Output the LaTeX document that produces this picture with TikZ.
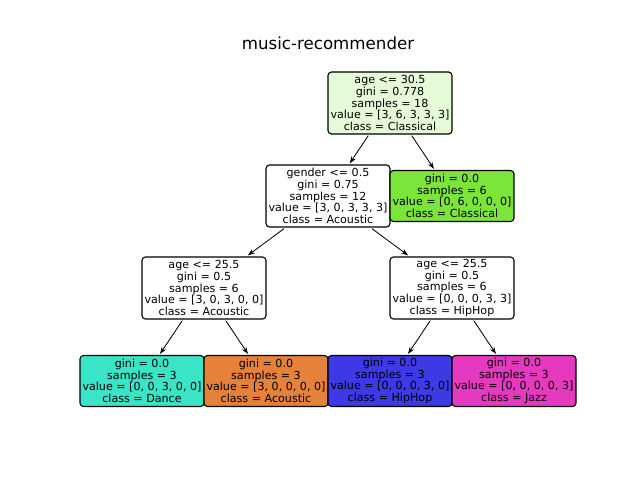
\documentclass[tikz,border=0pt]{standalone}
\usepackage{fontspec}
\setmainfont{DejaVu Sans}
\usetikzlibrary{arrows.meta}
\definecolor{rootc}{RGB}{229,250,215}
\definecolor{classc}{RGB}{123,229,57}
\definecolor{dancec}{RGB}{57,229,198}
\definecolor{acousc}{RGB}{229,129,57}
\definecolor{hipc}{RGB}{60,57,229}
\definecolor{jazzc}{RGB}{229,57,192}
\tikzset{
  treebox/.style={draw=black, line width=0.8pt, rounded corners=2.5pt, align=center,
    font=\fontsize{8}{8.4}\selectfont, minimum width=89.28pt, inner sep=1pt, outer sep=1.2pt},
  splitbox/.style={treebox, minimum height=44.64pt},
  leafbox/.style={treebox, minimum height=36.72pt},
  edge/.style={-{Stealth[length=5pt,width=3.6pt]}, line width=0.6pt}
}
\begin{document}
\begin{tikzpicture}[x=0.72pt, y=-0.72pt]
\useasboundingbox (0,0) rectangle (640,480);
\node[font=\fontsize{12}{14}\selectfont] (title) at (328,43) {music-recommender};
\node[splitbox, fill=rootc] (root) at (390,103) {age <= 30.5\\gini = 0.778\\samples = 18\\value = [3, 6, 3, 3, 3]\\class = Classical};
\node[splitbox, fill=white] (gender) at (328,196) {gender <= 0.5\\gini = 0.75\\samples = 12\\value = [3, 0, 3, 3, 3]\\class = Acoustic};
\node[leafbox, fill=classc] (leafcl) at (452,196) {gini = 0.0\\samples = 6\\value = [0, 6, 0, 0, 0]\\class = Classical};
\node[splitbox, fill=white] (ageL) at (204,288) {age <= 25.5\\gini = 0.5\\samples = 6\\value = [3, 0, 3, 0, 0]\\class = Acoustic};
\node[splitbox, fill=white] (ageR) at (452,288) {age <= 25.5\\gini = 0.5\\samples = 6\\value = [0, 0, 0, 3, 3]\\class = HipHop};
\node[leafbox, fill=dancec] (dance) at (142,381) {gini = 0.0\\samples = 3\\value = [0, 0, 3, 0, 0]\\class = Dance};
\node[leafbox, fill=acousc] (acous) at (266,381) {gini = 0.0\\samples = 3\\value = [3, 0, 0, 0, 0]\\class = Acoustic};
\node[leafbox, fill=hipc] (hip) at (390,381) {gini = 0.0\\samples = 3\\value = [0, 0, 0, 3, 0]\\class = HipHop};
\node[leafbox, fill=jazzc] (jazz) at (514,381) {gini = 0.0\\samples = 3\\value = [0, 0, 0, 0, 3]\\class = Jazz};
\draw[edge] (root) -- (gender);
\draw[edge] (root) -- (leafcl);
\draw[edge] (gender) -- (ageL);
\draw[edge] (gender) -- (ageR);
\draw[edge] (ageL) -- (dance);
\draw[edge] (ageL) -- (acous);
\draw[edge] (ageR) -- (hip);
\draw[edge] (ageR) -- (jazz);
\end{tikzpicture}
\end{document}
